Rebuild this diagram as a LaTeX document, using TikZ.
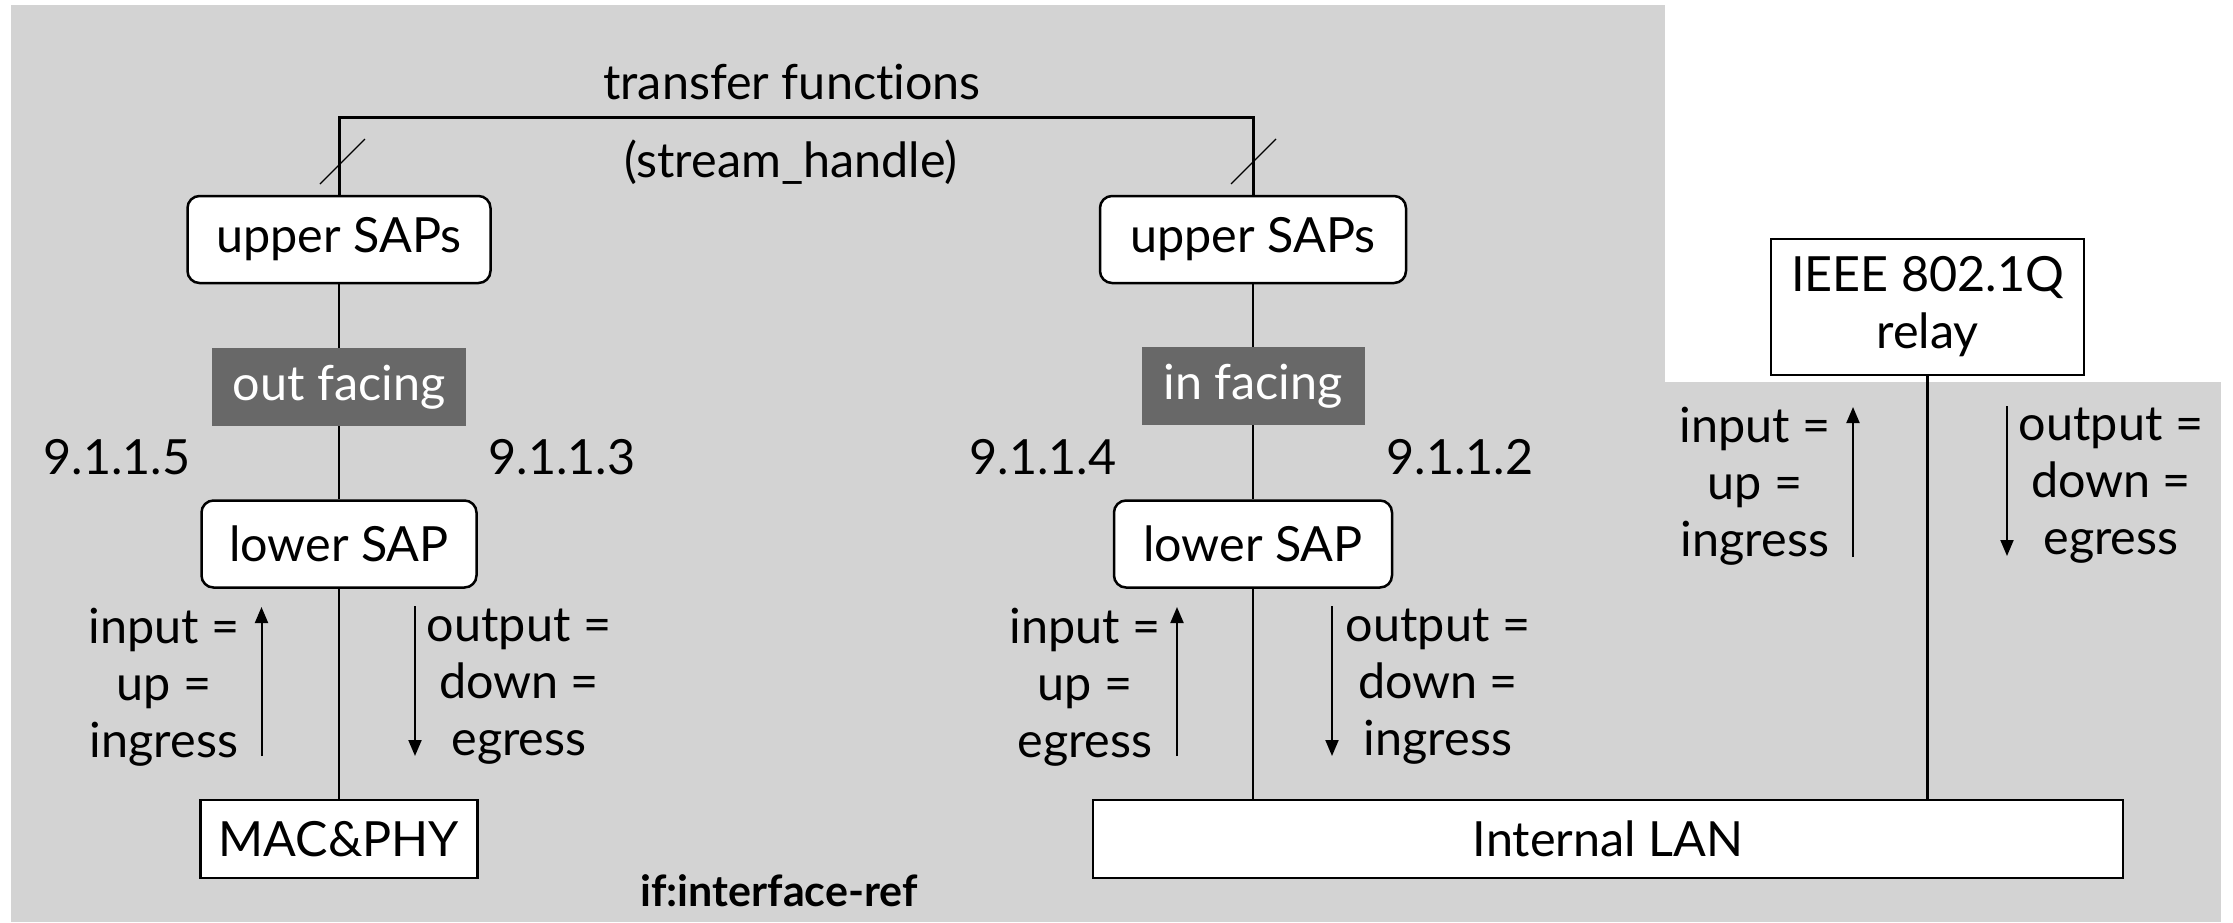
\documentclass[tikz,border=0pt]{standalone}
\usepackage{fontspec}
\setmainfont{Lato}[Ligatures=NoCommon]
\usetikzlibrary{arrows.meta}
\definecolor{panel}{RGB}{211,211,211}
\definecolor{tagfill}{RGB}{104,104,104}
\begin{document}
\begin{tikzpicture}[x=1pt,y=-1pt,
  every node/.style={font=\fontsize{48.5}{57}\selectfont},
  lbl/.style={inner sep=0pt, align=center},
  sapbox/.style={draw, line width=2.5pt, fill=white, rounded corners=12pt,
    minimum height=87pt, inner sep=0pt},
  plainbox/.style={draw, line width=2.5pt, fill=white, minimum height=78pt,
    inner sep=0pt},
  tagbox/.style={fill=tagfill, text=white, minimum height=78pt, inner sep=0pt},
  wire/.style={line width=2.5pt},
  slash/.style={line width=1.2pt},
  flow/.style={line width=2pt, -{Triangle[length=16pt,width=13pt]}}
]
\useasboundingbox (0,0) rectangle (2233,922);
% background panels
\fill[panel] (11,5) rectangle (1665,922);
\fill[panel] (1665,382) rectangle (2221,922);

% left port stack
\node[sapbox, minimum width=303pt] (lu) at (339,239.5) {upper SAPs};
\node[tagbox, minimum width=254pt] (of) at (339,387) {out facing};
\node[sapbox, minimum width=275pt] (ll) at (339,544) {lower SAP};
\node[plainbox, minimum width=277pt] (mac) at (339,839) {MAC\&PHY};

% right port stack
\node[sapbox, minimum width=306pt] (ru) at (1253,239.5) {upper SAPs};
\node[tagbox, minimum width=223pt] (inf) at (1253,386) {in facing};
\node[sapbox, minimum width=278pt] (rl) at (1253,544) {lower SAP};

% bridge components
\node[plainbox, minimum width=1030pt] (lan) at (1608,839) {Internal LAN};
\node[plainbox, minimum width=313pt, minimum height=136pt, align=center]
  (relay) at (1927.5,307) {IEEE 802.1Q\\relay};

% transfer functions bus
\coordinate (tl) at (339,117);
\coordinate (tr) at (1253,117);
\draw[line width=3pt] (lu.north) -- (tl) -- (tr) -- (ru.north);
\node[lbl] (tf) at (792,82) {transfer functions};
\node[lbl] (sh) at (791,162) {(stream\_handle)};
\coordinate (s1a) at (320,184); \coordinate (s1b) at (365,139);
\coordinate (s2a) at (1231,184); \coordinate (s2b) at (1276,139);
\draw[slash] (s1a) -- (s1b);
\draw[slash] (s2a) -- (s2b);

% vertical connections
\draw[wire] (lu) -- (of);
\draw[wire] (of) -- (ll);
\draw[wire] (ll) -- (mac);
\draw[wire] (ru) -- (inf);
\draw[wire] (inf) -- (rl);
\draw[wire] (rl.south) -- (rl.south |- lan.north);
\draw[wire] (relay.south) -- (relay.south |- lan.north);

% clause numbers
\node[lbl] (n5) at (117,457) {9.1.1.5};
\node[lbl] (n3) at (562,457) {9.1.1.3};
\node[lbl] (n4) at (1043,457) {9.1.1.4};
\node[lbl] (n2) at (1460,457) {9.1.1.2};

% direction arrows, left stack
\coordinate (a1s) at (261.5,756); \coordinate (a1e) at (261.5,607);
\coordinate (a2s) at (415,606);   \coordinate (a2e) at (415,756);
\draw[flow] (a1s) -- (a1e);
\draw[flow] (a2s) -- (a2e);
\node[lbl] (t1) at (164,687) {input =\\up =\\ingress};
\node[lbl] (t2) at (519,687) {output =\\down =\\egress};

% direction arrows, right stack
\coordinate (b1s) at (1177,756); \coordinate (b1e) at (1177,607);
\coordinate (b2s) at (1332,606); \coordinate (b2e) at (1332,756);
\draw[flow] (b1s) -- (b1e);
\draw[flow] (b2s) -- (b2e);
\node[lbl] (t3) at (1085,687) {input =\\up =\\egress};
\node[lbl] (t4) at (1438,687) {output =\\down =\\ingress};

% direction arrows, relay
\coordinate (c1s) at (1853,557); \coordinate (c1e) at (1853,407);
\coordinate (c2s) at (2007,406); \coordinate (c2e) at (2007,556);
\draw[flow] (c1s) -- (c1e);
\draw[flow] (c2s) -- (c2e);
\node[lbl] (t5) at (1755,486) {input =\\up =\\ingress};
\node[lbl] (t6) at (2111,486) {output =\\down =\\egress};

% figure tag
\node[lbl, font=\fontsize{43}{50}\selectfont\bfseries] (tag) at (779,891) {if:interface-ref};
\end{tikzpicture}
\end{document}
